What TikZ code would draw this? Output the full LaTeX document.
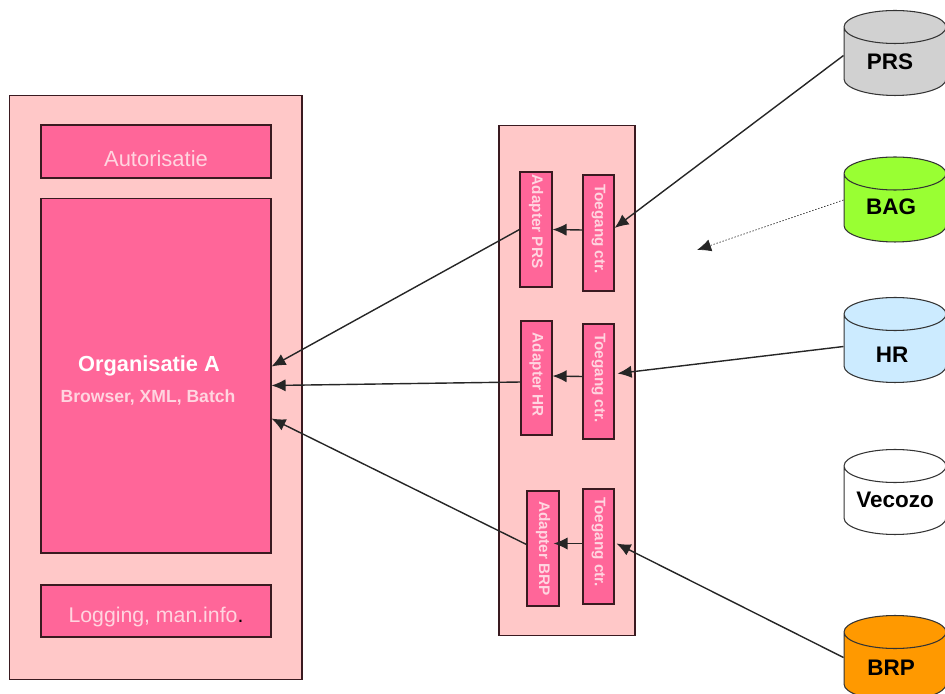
\documentclass[tikz,border=0pt]{standalone}
\usepackage{fontspec}
\setmainfont{Liberation Sans}
\usetikzlibrary{arrows.meta}
\usetikzlibrary{calc}
\usetikzlibrary{shapes.geometric}
\definecolor{lightpink}{HTML}{FFC8C8}
\definecolor{hotpink}{HTML}{FF6699}
\definecolor{labelpink}{HTML}{FFD5E0}
\definecolor{edgedark}{HTML}{3A1A20}
\definecolor{hrblue}{HTML}{CCEBFF}
\definecolor{brporange}{HTML}{FF9900}
\definecolor{baggreen}{HTML}{99FF33}
\tikzset{
  panel/.style={draw=edgedark, line width=0.6pt, fill=lightpink, inner sep=0pt},
  block/.style={draw=edgedark, line width=0.6pt, fill=hotpink, inner sep=0pt, text=labelpink, align=center},
  small/.style={block, font=\fontsize{8.7}{10}\selectfont\bfseries},
  store/.style={cylinder, shape border rotate=90, aspect=0.55, draw=black!80, line width=0.6pt,
    minimum width=2.04cm, minimum height=1.7cm, inner sep=0pt, text width=1.2cm},
  storename/.style={font=\fontsize{12.8}{14}\selectfont\bfseries, inner sep=0pt},
  link/.style={line width=0.8pt, draw=black!85, -{Latex[length=8pt,width=7pt]}},
}
\begin{document}
\begin{tikzpicture}[x=0.02cm, y=-0.02cm]
        \useasboundingbox (0, 0) rectangle (945, 693);
        % left column
        \node[panel, minimum width=5.86cm, minimum height=11.7cm] (orgpanel) at (155.5, 387.5) {};
        \node[block, minimum width=4.6cm, minimum height=1.06cm, font=\fontsize{12.5}{14}\selectfont, text height=17pt] (autorisatie) at (156, 151.5) {Autorisatie};
        \node[block, minimum width=4.6cm, minimum height=7.1cm] (orga) at (156, 375.5) {};
        \node[text=white, font=\fontsize{12.4}{14}\selectfont\bfseries] (orgname) at (149, 366) {Organisatie A};
        \node[text=labelpink, font=\fontsize{10}{12}\selectfont\bfseries] (orgsub) at (148, 397) {Browser, XML, Batch};
        \node[block, minimum width=4.6cm, minimum height=1.04cm, font=\fontsize{12.1}{14}\selectfont, text height=16pt] (logging) at (156, 611) {Logging, man.info{\color{black}.}};
        % middle column
        \node[panel, minimum width=2.72cm, minimum height=10.22cm] (midpanel) at (567, 380.5) {};
        \node[small, minimum width=0.64cm, minimum height=2.3cm] (adprs) at (536, 229.5) {\rotatebox{-90}{Adapter PRS\hspace{9pt}}};
        \node[small, minimum width=0.62cm, minimum height=2.28cm] (adhr) at (536.5, 378) {\rotatebox{-90}{Adapter HR\hspace{3.5pt}}};
        \node[small, minimum width=0.64cm, minimum height=2.3cm] (adbrp) at (543, 548.5) {\rotatebox{-90}{Adapter BRP}};
        \node[small, minimum width=0.62cm, minimum height=2.32cm] (toega) at (598.5, 233) {\rotatebox{-90}{Toegang ctr.\hspace{4.5pt}}};
        \node[small, minimum width=0.62cm, minimum height=2.3cm] (toegb) at (598.5, 381.5) {\rotatebox{-90}{Toegang ctr.\hspace{4pt}}};
        \node[small, minimum width=0.62cm, minimum height=2.3cm] (toegc) at (598.5, 546.5) {\rotatebox{-90}{Toegang ctr.\hspace{5pt}}};
        % stores
        \node[store, fill=black!18] (prs) at (895, 61.5) {};
        \node[store, fill=baggreen] (bag) at (895, 208) {};
        \node[store, fill=hrblue] (hr) at (895, 348.5) {};
        \node[store, fill=white] (vecozo) at (895, 500.5) {};
        \node[store, fill=brporange] (brp) at (895, 666.5) {};
        \node[storename] (prsname) at (890, 62) {PRS};
        \node[storename] (bagname) at (891, 207) {BAG};
        \node[storename] (hrname) at (892, 355) {HR};
        \node[storename] (vecozoname) at (895, 500) {Vecozo};
        \node[storename] (brpname) at (891, 668) {BRP};
        % connectors
        \coordinate (bagend) at (697, 250);
        \draw[link] ($(prs.west)+(0,-6)$) -- ($(toega.east)+(0,-5)$);
        \draw[link, densely dotted, line width=0.4pt] ($(bag.west)+(0,-8)$) -- (bagend);
        \draw[link] ($(hr.west)+(0,-2)$) -- ($(toegb.east)+(3,-8)$);
        \draw[link] ($(brp.west)+(0,-9)$) -- ($(toegc.east)+(2,-3)$);
        \draw[link] ($(toega.west)+(0,-3)$) -- (adprs.east);
        \draw[link] ($(toegb.west)+(0,-5)$) -- ($(adhr.east)+(0,-2)$);
        \draw[link] ($(toegc.west)+(0,-3)$) -- ($(adbrp.east)+(-6,-5)$);
        \draw[link] (adprs.west) -- ($(orga.east)+(0,-9)$);
        \draw[link] ($(adhr.west)+(0,4)$) -- ($(orga.east)+(0,10)$);
        \draw[link] ($(adbrp.west)+(0,-4)$) -- ($(orga.east)+(0,43)$);
\end{tikzpicture}
\end{document}
